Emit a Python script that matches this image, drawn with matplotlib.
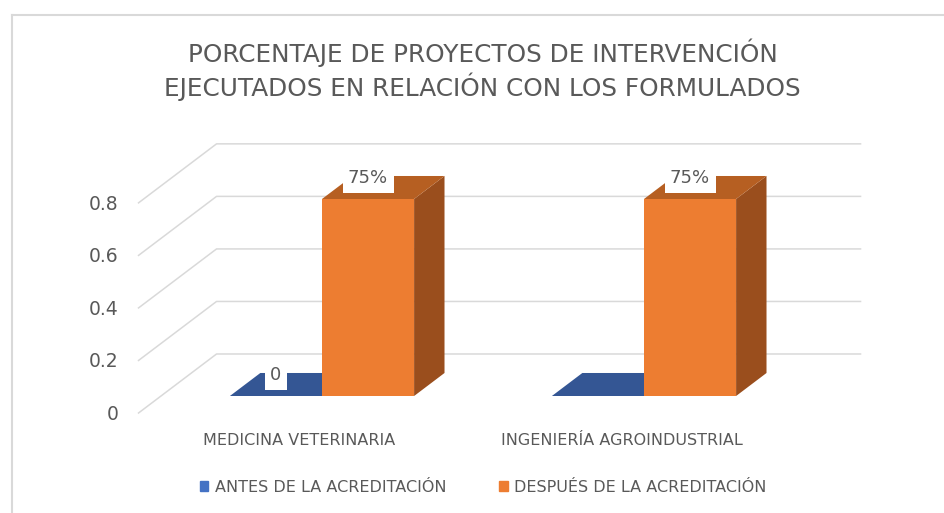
import numpy as np
import matplotlib.pyplot as plt
from matplotlib.patches import Polygon, Patch
from matplotlib.lines import Line2D

categorias = ["MEDICINA VETERINARIA", "INGENIERÍA AGROINDUSTRIAL"]
series = ["ANTES DE LA ACREDITACIÓN", "DESPUÉS DE LA ACREDITACIÓN"]
antes = [0, 0]
despues = [0.75, 0.75]
etiquetas_antes = ["0", ""]
etiquetas_despues = ["75%", "75%"]
y_ticks = [0, 0.2, 0.4, 0.6, 0.8]
titulo = ["PORCENTAJE DE PROYECTOS DE INTERVENCIÓN",
          "EJECUTADOS EN RELACIÓN CON LOS FORMULADOS"]

W, H = 944, 513
TXT = "#595959"
GRID = "#d9d9d9"

# front plane of the bars, in pixels
X0_PX, X_SCALE = 322, 322      # px of first category, px per category
Y0_PX, Y_SCALE = 117, 262.67   # px (from bottom) of value 0, px per unit
DX, DY = 78 / X_SCALE, 59 / Y_SCALE   # full floor depth in data units
D_FRONT, D_BACK = 0.288, 0.678        # bar depth, as fraction of floor
BAR_W = 0.286


def proj(x, y, d):
    # shift a point from the bar front plane to depth d (0 front, 1 back wall)
    return (x + (d - D_FRONT) * DX, y + (d - D_FRONT) * DY)


def bar3d(ax, bars, top_c, side_c, z):
    for b in bars:
        x0, x1, h = b.get_x(), b.get_x() + b.get_width(), b.get_height()
        top = [proj(x0, h, D_FRONT), proj(x1, h, D_FRONT),
               proj(x1, h, D_BACK), proj(x0, h, D_BACK)]
        side = [proj(x1, 0, D_FRONT), proj(x1, h, D_FRONT),
                proj(x1, h, D_BACK), proj(x1, 0, D_BACK)]
        ax.add_patch(Polygon(side, closed=True, fc=side_c, ec="none", zorder=z))
        ax.add_patch(Polygon(top, closed=True, fc=top_c, ec="none", zorder=z))


fig = plt.figure(figsize=(W / 100, H / 100), dpi=100)
ax = fig.add_axes([0, 0, 1, 1])
ax.set_xlim(-X0_PX / X_SCALE, (W - X0_PX) / X_SCALE)
ax.set_ylim(-Y0_PX / Y_SCALE, (H - Y0_PX) / Y_SCALE)
ax.axis("off")

# chart border (cropped on right and bottom)
fig.add_artist(Line2D([12 / W, 12 / W], [0, 1 - 15 / H], color=GRID, lw=1.5))
fig.add_artist(Line2D([12 / W, 1], [1 - 15 / H, 1 - 15 / H], color=GRID, lw=1.5))

# back wall + left side grid lines and value labels
for v in y_ticks:
    pts = [proj(-0.5, v, 0), proj(-0.5, v, 1), proj(1.5, v, 1)]
    ax.plot([p[0] for p in pts], [p[1] for p in pts], color=GRID, lw=1.1, zorder=1)
    ax.annotate(f"{v:g}", pts[0], xytext=(-14.5, -1), textcoords="offset points",
                ha="right", va="center", fontsize=13.5, color=TXT)

x = np.arange(len(categorias))
b_antes = ax.bar(x - BAR_W / 2, antes, BAR_W, color="#4472C4", zorder=3)
bar3d(ax, b_antes, "#345694", "#2c4b82", 3)
b_despues = ax.bar(x + BAR_W / 2, despues, BAR_W, color="#ED7D31", zorder=5)
bar3d(ax, b_despues, "#B65F22", "#9A4E1D", 4)

lbl = dict(fontsize=13, color=TXT, zorder=6,
           bbox=dict(boxstyle="square,pad=0.3", fc="white", ec="none"))
ax.bar_label(b_antes, labels=etiquetas_antes, padding=8.3, **lbl)
ax.bar_label(b_despues, labels=etiquetas_despues, padding=8.3, **lbl)

# category labels along the front floor edge
for i, c in enumerate(categorias):
    ax.annotate(c, proj(i, 0, 0), xytext=(0, -19.5), textcoords="offset points",
                ha="center", va="center", fontsize=11.5, color=TXT)

fig.text(482.5 / W, 1 - 62 / H, titulo[0], ha="center", va="baseline",
         fontsize=17.8, color=TXT)
fig.text(482.5 / W, 1 - 96 / H, titulo[1], ha="center", va="baseline",
         fontsize=17.8, color=TXT)

handles = [Patch(color="#4472C4"), Patch(color="#ED7D31")]
fig.legend(handles, series, loc="center", bbox_to_anchor=(483 / W, 1 - 487 / H),
           ncol=2, frameon=False, fontsize=11.5, handlelength=0.55,
           handleheight=0.6, handletextpad=0.4, columnspacing=3.3,
           labelcolor=TXT)

fig.savefig("out.png", dpi=100, facecolor="white")
